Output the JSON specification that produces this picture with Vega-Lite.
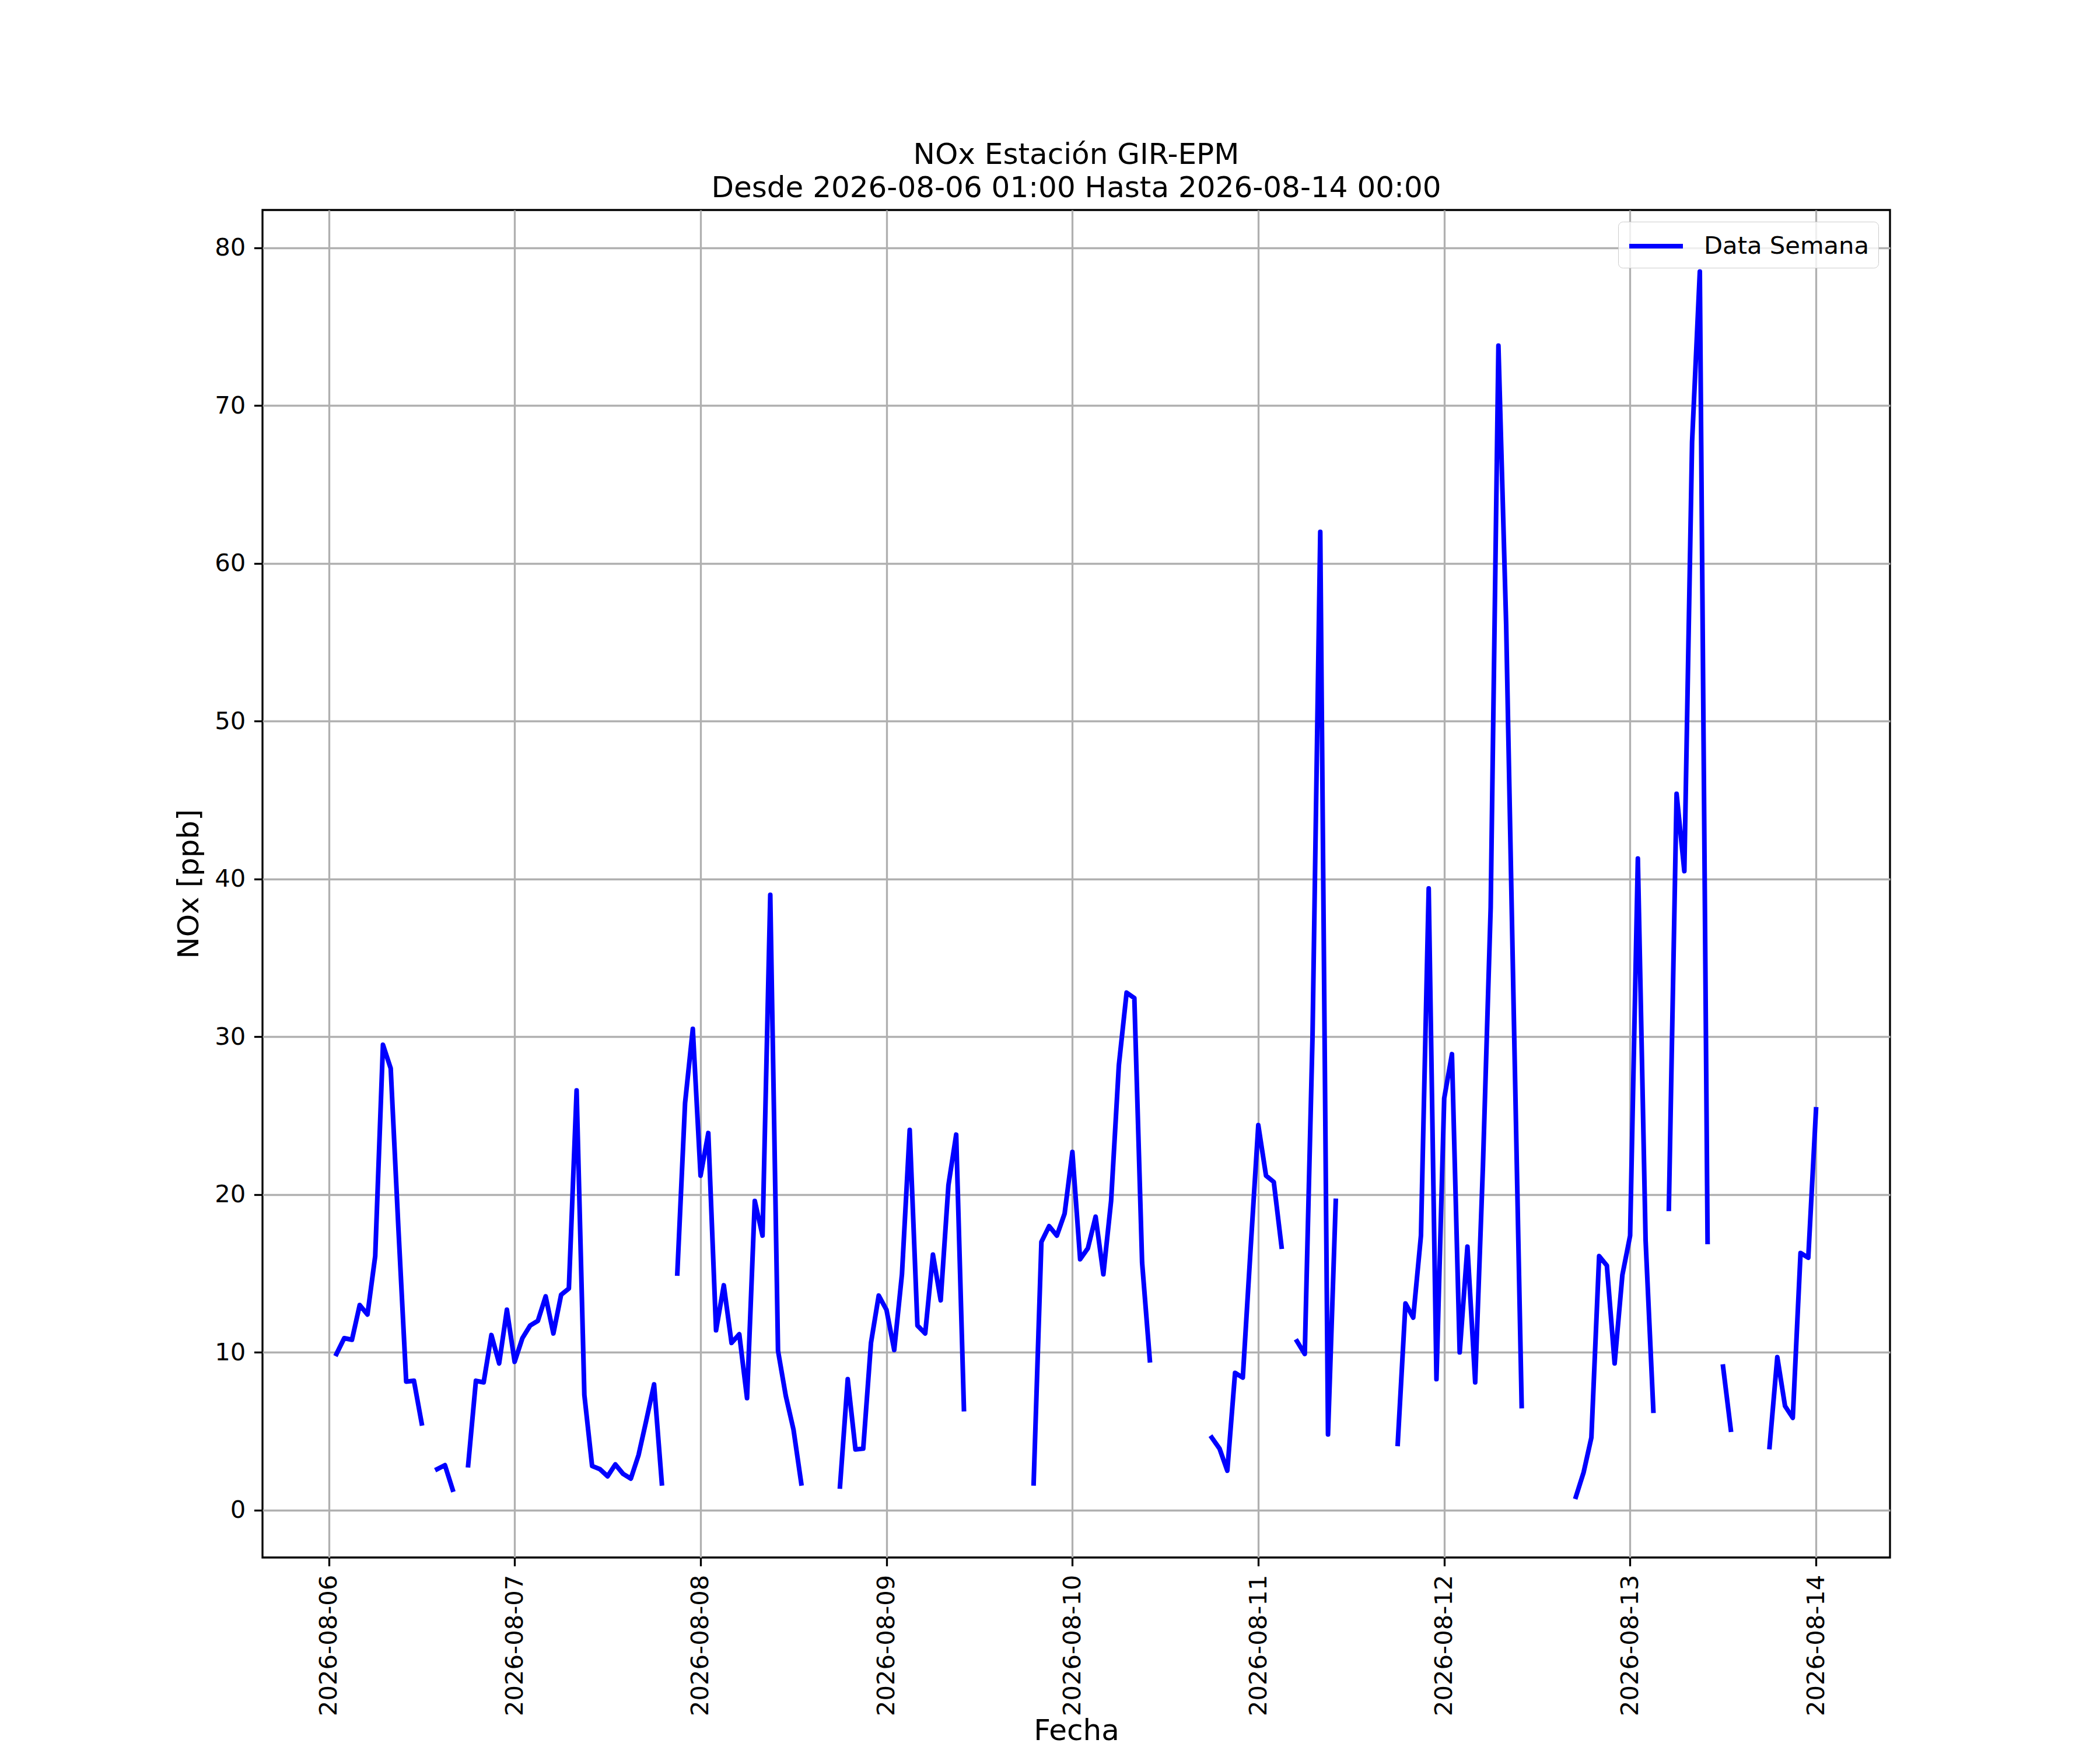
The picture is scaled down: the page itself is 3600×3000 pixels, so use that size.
{
  "$schema": "https://vega.github.io/schema/vega-lite/v6.json",
  "width": 2790,
  "height": 2310,
  "autosize": "none",
  "padding": {"left": 450, "top": 360, "right": 360, "bottom": 330},
  "background": "#ffffff",
  "view": {"stroke": "#000000", "strokeWidth": 3.3, "fill": "#ffffff"},
  "title": {
    "text": ["NOx Estación GIR-EPM", "Desde 2026-08-06 01:00 Hasta 2026-08-14 00:00"],
    "anchor": "middle",
    "frame": "group",
    "font": "DejaVu Sans",
    "fontSize": 50,
    "fontWeight": "normal",
    "lineHeight": 57,
    "offset": 12,
    "color": "#000000"
  },
  "data": {
    "values": [
      {"fecha": "2026-08-06T01:00:00", "nox": 9.9, "serie": "Data Semana"},
      {"fecha": "2026-08-06T02:00:00", "nox": 10.9, "serie": "Data Semana"},
      {"fecha": "2026-08-06T03:00:00", "nox": 10.8, "serie": "Data Semana"},
      {"fecha": "2026-08-06T04:00:00", "nox": 13.0, "serie": "Data Semana"},
      {"fecha": "2026-08-06T05:00:00", "nox": 12.4, "serie": "Data Semana"},
      {"fecha": "2026-08-06T06:00:00", "nox": 16.1, "serie": "Data Semana"},
      {"fecha": "2026-08-06T07:00:00", "nox": 29.5, "serie": "Data Semana"},
      {"fecha": "2026-08-06T08:00:00", "nox": 28.0, "serie": "Data Semana"},
      {"fecha": "2026-08-06T09:00:00", "nox": 17.8, "serie": "Data Semana"},
      {"fecha": "2026-08-06T10:00:00", "nox": 8.15, "serie": "Data Semana"},
      {"fecha": "2026-08-06T11:00:00", "nox": 8.2, "serie": "Data Semana"},
      {"fecha": "2026-08-06T12:00:00", "nox": 5.5, "serie": "Data Semana"},
      {"fecha": "2026-08-06T13:00:00", "nox": null, "serie": "Data Semana"},
      {"fecha": "2026-08-06T14:00:00", "nox": 2.6, "serie": "Data Semana"},
      {"fecha": "2026-08-06T15:00:00", "nox": 2.85, "serie": "Data Semana"},
      {"fecha": "2026-08-06T16:00:00", "nox": 1.3, "serie": "Data Semana"},
      {"fecha": "2026-08-06T17:00:00", "nox": null, "serie": "Data Semana"},
      {"fecha": "2026-08-06T18:00:00", "nox": 2.85, "serie": "Data Semana"},
      {"fecha": "2026-08-06T19:00:00", "nox": 8.2, "serie": "Data Semana"},
      {"fecha": "2026-08-06T20:00:00", "nox": 8.1, "serie": "Data Semana"},
      {"fecha": "2026-08-06T21:00:00", "nox": 11.1, "serie": "Data Semana"},
      {"fecha": "2026-08-06T22:00:00", "nox": 9.3, "serie": "Data Semana"},
      {"fecha": "2026-08-06T23:00:00", "nox": 12.7, "serie": "Data Semana"},
      {"fecha": "2026-08-07T00:00:00", "nox": 9.4, "serie": "Data Semana"},
      {"fecha": "2026-08-07T01:00:00", "nox": 10.9, "serie": "Data Semana"},
      {"fecha": "2026-08-07T02:00:00", "nox": 11.7, "serie": "Data Semana"},
      {"fecha": "2026-08-07T03:00:00", "nox": 12.0, "serie": "Data Semana"},
      {"fecha": "2026-08-07T04:00:00", "nox": 13.55, "serie": "Data Semana"},
      {"fecha": "2026-08-07T05:00:00", "nox": 11.2, "serie": "Data Semana"},
      {"fecha": "2026-08-07T06:00:00", "nox": 13.65, "serie": "Data Semana"},
      {"fecha": "2026-08-07T07:00:00", "nox": 14.05, "serie": "Data Semana"},
      {"fecha": "2026-08-07T08:00:00", "nox": 26.6, "serie": "Data Semana"},
      {"fecha": "2026-08-07T09:00:00", "nox": 7.3, "serie": "Data Semana"},
      {"fecha": "2026-08-07T10:00:00", "nox": 2.8, "serie": "Data Semana"},
      {"fecha": "2026-08-07T11:00:00", "nox": 2.6, "serie": "Data Semana"},
      {"fecha": "2026-08-07T12:00:00", "nox": 2.15, "serie": "Data Semana"},
      {"fecha": "2026-08-07T13:00:00", "nox": 2.9, "serie": "Data Semana"},
      {"fecha": "2026-08-07T14:00:00", "nox": 2.3, "serie": "Data Semana"},
      {"fecha": "2026-08-07T15:00:00", "nox": 2.0, "serie": "Data Semana"},
      {"fecha": "2026-08-07T16:00:00", "nox": 3.5, "serie": "Data Semana"},
      {"fecha": "2026-08-07T17:00:00", "nox": 5.7, "serie": "Data Semana"},
      {"fecha": "2026-08-07T18:00:00", "nox": 7.97, "serie": "Data Semana"},
      {"fecha": "2026-08-07T19:00:00", "nox": 1.7, "serie": "Data Semana"},
      {"fecha": "2026-08-07T20:00:00", "nox": null, "serie": "Data Semana"},
      {"fecha": "2026-08-07T21:00:00", "nox": 15.0, "serie": "Data Semana"},
      {"fecha": "2026-08-07T22:00:00", "nox": 25.8, "serie": "Data Semana"},
      {"fecha": "2026-08-07T23:00:00", "nox": 30.5, "serie": "Data Semana"},
      {"fecha": "2026-08-08T00:00:00", "nox": 21.2, "serie": "Data Semana"},
      {"fecha": "2026-08-08T01:00:00", "nox": 23.9, "serie": "Data Semana"},
      {"fecha": "2026-08-08T02:00:00", "nox": 11.4, "serie": "Data Semana"},
      {"fecha": "2026-08-08T03:00:00", "nox": 14.25, "serie": "Data Semana"},
      {"fecha": "2026-08-08T04:00:00", "nox": 10.6, "serie": "Data Semana"},
      {"fecha": "2026-08-08T05:00:00", "nox": 11.15, "serie": "Data Semana"},
      {"fecha": "2026-08-08T06:00:00", "nox": 7.1, "serie": "Data Semana"},
      {"fecha": "2026-08-08T07:00:00", "nox": 19.6, "serie": "Data Semana"},
      {"fecha": "2026-08-08T08:00:00", "nox": 17.4, "serie": "Data Semana"},
      {"fecha": "2026-08-08T09:00:00", "nox": 39.0, "serie": "Data Semana"},
      {"fecha": "2026-08-08T10:00:00", "nox": 10.1, "serie": "Data Semana"},
      {"fecha": "2026-08-08T11:00:00", "nox": 7.25, "serie": "Data Semana"},
      {"fecha": "2026-08-08T12:00:00", "nox": 5.1, "serie": "Data Semana"},
      {"fecha": "2026-08-08T13:00:00", "nox": 1.7, "serie": "Data Semana"},
      {"fecha": "2026-08-08T14:00:00", "nox": null, "serie": "Data Semana"},
      {"fecha": "2026-08-08T15:00:00", "nox": null, "serie": "Data Semana"},
      {"fecha": "2026-08-08T16:00:00", "nox": null, "serie": "Data Semana"},
      {"fecha": "2026-08-08T17:00:00", "nox": null, "serie": "Data Semana"},
      {"fecha": "2026-08-08T18:00:00", "nox": 1.5, "serie": "Data Semana"},
      {"fecha": "2026-08-08T19:00:00", "nox": 8.3, "serie": "Data Semana"},
      {"fecha": "2026-08-08T20:00:00", "nox": 3.85, "serie": "Data Semana"},
      {"fecha": "2026-08-08T21:00:00", "nox": 3.9, "serie": "Data Semana"},
      {"fecha": "2026-08-08T22:00:00", "nox": 10.6, "serie": "Data Semana"},
      {"fecha": "2026-08-08T23:00:00", "nox": 13.6, "serie": "Data Semana"},
      {"fecha": "2026-08-09T00:00:00", "nox": 12.7, "serie": "Data Semana"},
      {"fecha": "2026-08-09T01:00:00", "nox": 10.15, "serie": "Data Semana"},
      {"fecha": "2026-08-09T02:00:00", "nox": 14.95, "serie": "Data Semana"},
      {"fecha": "2026-08-09T03:00:00", "nox": 24.1, "serie": "Data Semana"},
      {"fecha": "2026-08-09T04:00:00", "nox": 11.7, "serie": "Data Semana"},
      {"fecha": "2026-08-09T05:00:00", "nox": 11.2, "serie": "Data Semana"},
      {"fecha": "2026-08-09T06:00:00", "nox": 16.2, "serie": "Data Semana"},
      {"fecha": "2026-08-09T07:00:00", "nox": 13.3, "serie": "Data Semana"},
      {"fecha": "2026-08-09T08:00:00", "nox": 20.6, "serie": "Data Semana"},
      {"fecha": "2026-08-09T09:00:00", "nox": 23.8, "serie": "Data Semana"},
      {"fecha": "2026-08-09T10:00:00", "nox": 6.4, "serie": "Data Semana"},
      {"fecha": "2026-08-09T11:00:00", "nox": null, "serie": "Data Semana"},
      {"fecha": "2026-08-09T12:00:00", "nox": null, "serie": "Data Semana"},
      {"fecha": "2026-08-09T13:00:00", "nox": null, "serie": "Data Semana"},
      {"fecha": "2026-08-09T14:00:00", "nox": null, "serie": "Data Semana"},
      {"fecha": "2026-08-09T15:00:00", "nox": null, "serie": "Data Semana"},
      {"fecha": "2026-08-09T16:00:00", "nox": null, "serie": "Data Semana"},
      {"fecha": "2026-08-09T17:00:00", "nox": null, "serie": "Data Semana"},
      {"fecha": "2026-08-09T18:00:00", "nox": null, "serie": "Data Semana"},
      {"fecha": "2026-08-09T19:00:00", "nox": 1.7, "serie": "Data Semana"},
      {"fecha": "2026-08-09T20:00:00", "nox": 17.0, "serie": "Data Semana"},
      {"fecha": "2026-08-09T21:00:00", "nox": 18.0, "serie": "Data Semana"},
      {"fecha": "2026-08-09T22:00:00", "nox": 17.4, "serie": "Data Semana"},
      {"fecha": "2026-08-09T23:00:00", "nox": 18.8, "serie": "Data Semana"},
      {"fecha": "2026-08-10T00:00:00", "nox": 22.7, "serie": "Data Semana"},
      {"fecha": "2026-08-10T01:00:00", "nox": 15.9, "serie": "Data Semana"},
      {"fecha": "2026-08-10T02:00:00", "nox": 16.6, "serie": "Data Semana"},
      {"fecha": "2026-08-10T03:00:00", "nox": 18.6, "serie": "Data Semana"},
      {"fecha": "2026-08-10T04:00:00", "nox": 14.95, "serie": "Data Semana"},
      {"fecha": "2026-08-10T05:00:00", "nox": 19.6, "serie": "Data Semana"},
      {"fecha": "2026-08-10T06:00:00", "nox": 28.2, "serie": "Data Semana"},
      {"fecha": "2026-08-10T07:00:00", "nox": 32.8, "serie": "Data Semana"},
      {"fecha": "2026-08-10T08:00:00", "nox": 32.45, "serie": "Data Semana"},
      {"fecha": "2026-08-10T09:00:00", "nox": 15.7, "serie": "Data Semana"},
      {"fecha": "2026-08-10T10:00:00", "nox": 9.5, "serie": "Data Semana"},
      {"fecha": "2026-08-10T11:00:00", "nox": null, "serie": "Data Semana"},
      {"fecha": "2026-08-10T12:00:00", "nox": null, "serie": "Data Semana"},
      {"fecha": "2026-08-10T13:00:00", "nox": null, "serie": "Data Semana"},
      {"fecha": "2026-08-10T14:00:00", "nox": null, "serie": "Data Semana"},
      {"fecha": "2026-08-10T15:00:00", "nox": null, "serie": "Data Semana"},
      {"fecha": "2026-08-10T16:00:00", "nox": null, "serie": "Data Semana"},
      {"fecha": "2026-08-10T17:00:00", "nox": null, "serie": "Data Semana"},
      {"fecha": "2026-08-10T18:00:00", "nox": 4.6, "serie": "Data Semana"},
      {"fecha": "2026-08-10T19:00:00", "nox": 3.9, "serie": "Data Semana"},
      {"fecha": "2026-08-10T20:00:00", "nox": 2.5, "serie": "Data Semana"},
      {"fecha": "2026-08-10T21:00:00", "nox": 8.7, "serie": "Data Semana"},
      {"fecha": "2026-08-10T22:00:00", "nox": 8.4, "serie": "Data Semana"},
      {"fecha": "2026-08-10T23:00:00", "nox": 16.5, "serie": "Data Semana"},
      {"fecha": "2026-08-11T00:00:00", "nox": 24.4, "serie": "Data Semana"},
      {"fecha": "2026-08-11T01:00:00", "nox": 21.2, "serie": "Data Semana"},
      {"fecha": "2026-08-11T02:00:00", "nox": 20.8, "serie": "Data Semana"},
      {"fecha": "2026-08-11T03:00:00", "nox": 16.7, "serie": "Data Semana"},
      {"fecha": "2026-08-11T04:00:00", "nox": null, "serie": "Data Semana"},
      {"fecha": "2026-08-11T05:00:00", "nox": 10.7, "serie": "Data Semana"},
      {"fecha": "2026-08-11T06:00:00", "nox": 9.9, "serie": "Data Semana"},
      {"fecha": "2026-08-11T07:00:00", "nox": 30.0, "serie": "Data Semana"},
      {"fecha": "2026-08-11T08:00:00", "nox": 62.0, "serie": "Data Semana"},
      {"fecha": "2026-08-11T09:00:00", "nox": 4.8, "serie": "Data Semana"},
      {"fecha": "2026-08-11T10:00:00", "nox": 19.6, "serie": "Data Semana"},
      {"fecha": "2026-08-11T11:00:00", "nox": null, "serie": "Data Semana"},
      {"fecha": "2026-08-11T12:00:00", "nox": null, "serie": "Data Semana"},
      {"fecha": "2026-08-11T13:00:00", "nox": null, "serie": "Data Semana"},
      {"fecha": "2026-08-11T14:00:00", "nox": null, "serie": "Data Semana"},
      {"fecha": "2026-08-11T15:00:00", "nox": null, "serie": "Data Semana"},
      {"fecha": "2026-08-11T16:00:00", "nox": null, "serie": "Data Semana"},
      {"fecha": "2026-08-11T17:00:00", "nox": null, "serie": "Data Semana"},
      {"fecha": "2026-08-11T18:00:00", "nox": 4.2, "serie": "Data Semana"},
      {"fecha": "2026-08-11T19:00:00", "nox": 13.1, "serie": "Data Semana"},
      {"fecha": "2026-08-11T20:00:00", "nox": 12.2, "serie": "Data Semana"},
      {"fecha": "2026-08-11T21:00:00", "nox": 17.4, "serie": "Data Semana"},
      {"fecha": "2026-08-11T22:00:00", "nox": 39.4, "serie": "Data Semana"},
      {"fecha": "2026-08-11T23:00:00", "nox": 8.3, "serie": "Data Semana"},
      {"fecha": "2026-08-12T00:00:00", "nox": 26.1, "serie": "Data Semana"},
      {"fecha": "2026-08-12T01:00:00", "nox": 28.9, "serie": "Data Semana"},
      {"fecha": "2026-08-12T02:00:00", "nox": 10.0, "serie": "Data Semana"},
      {"fecha": "2026-08-12T03:00:00", "nox": 16.7, "serie": "Data Semana"},
      {"fecha": "2026-08-12T04:00:00", "nox": 8.1, "serie": "Data Semana"},
      {"fecha": "2026-08-12T05:00:00", "nox": 21.8, "serie": "Data Semana"},
      {"fecha": "2026-08-12T06:00:00", "nox": 38.2, "serie": "Data Semana"},
      {"fecha": "2026-08-12T07:00:00", "nox": 73.8, "serie": "Data Semana"},
      {"fecha": "2026-08-12T08:00:00", "nox": 56.1, "serie": "Data Semana"},
      {"fecha": "2026-08-12T09:00:00", "nox": 31.0, "serie": "Data Semana"},
      {"fecha": "2026-08-12T10:00:00", "nox": 6.6, "serie": "Data Semana"},
      {"fecha": "2026-08-12T11:00:00", "nox": null, "serie": "Data Semana"},
      {"fecha": "2026-08-12T12:00:00", "nox": null, "serie": "Data Semana"},
      {"fecha": "2026-08-12T13:00:00", "nox": null, "serie": "Data Semana"},
      {"fecha": "2026-08-12T14:00:00", "nox": null, "serie": "Data Semana"},
      {"fecha": "2026-08-12T15:00:00", "nox": null, "serie": "Data Semana"},
      {"fecha": "2026-08-12T16:00:00", "nox": null, "serie": "Data Semana"},
      {"fecha": "2026-08-12T17:00:00", "nox": 0.85, "serie": "Data Semana"},
      {"fecha": "2026-08-12T18:00:00", "nox": 2.4, "serie": "Data Semana"},
      {"fecha": "2026-08-12T19:00:00", "nox": 4.6, "serie": "Data Semana"},
      {"fecha": "2026-08-12T20:00:00", "nox": 16.1, "serie": "Data Semana"},
      {"fecha": "2026-08-12T21:00:00", "nox": 15.5, "serie": "Data Semana"},
      {"fecha": "2026-08-12T22:00:00", "nox": 9.3, "serie": "Data Semana"},
      {"fecha": "2026-08-12T23:00:00", "nox": 14.9, "serie": "Data Semana"},
      {"fecha": "2026-08-13T00:00:00", "nox": 17.4, "serie": "Data Semana"},
      {"fecha": "2026-08-13T01:00:00", "nox": 41.3, "serie": "Data Semana"},
      {"fecha": "2026-08-13T02:00:00", "nox": 17.1, "serie": "Data Semana"},
      {"fecha": "2026-08-13T03:00:00", "nox": 6.3, "serie": "Data Semana"},
      {"fecha": "2026-08-13T04:00:00", "nox": null, "serie": "Data Semana"},
      {"fecha": "2026-08-13T05:00:00", "nox": 19.1, "serie": "Data Semana"},
      {"fecha": "2026-08-13T06:00:00", "nox": 45.4, "serie": "Data Semana"},
      {"fecha": "2026-08-13T07:00:00", "nox": 40.5, "serie": "Data Semana"},
      {"fecha": "2026-08-13T08:00:00", "nox": 67.7, "serie": "Data Semana"},
      {"fecha": "2026-08-13T09:00:00", "nox": 78.5, "serie": "Data Semana"},
      {"fecha": "2026-08-13T10:00:00", "nox": 17.0, "serie": "Data Semana"},
      {"fecha": "2026-08-13T11:00:00", "nox": null, "serie": "Data Semana"},
      {"fecha": "2026-08-13T12:00:00", "nox": 9.1, "serie": "Data Semana"},
      {"fecha": "2026-08-13T13:00:00", "nox": 5.1, "serie": "Data Semana"},
      {"fecha": "2026-08-13T14:00:00", "nox": null, "serie": "Data Semana"},
      {"fecha": "2026-08-13T15:00:00", "nox": null, "serie": "Data Semana"},
      {"fecha": "2026-08-13T16:00:00", "nox": null, "serie": "Data Semana"},
      {"fecha": "2026-08-13T17:00:00", "nox": null, "serie": "Data Semana"},
      {"fecha": "2026-08-13T18:00:00", "nox": 4.0, "serie": "Data Semana"},
      {"fecha": "2026-08-13T19:00:00", "nox": 9.7, "serie": "Data Semana"},
      {"fecha": "2026-08-13T20:00:00", "nox": 6.6, "serie": "Data Semana"},
      {"fecha": "2026-08-13T21:00:00", "nox": 5.85, "serie": "Data Semana"},
      {"fecha": "2026-08-13T22:00:00", "nox": 16.3, "serie": "Data Semana"},
      {"fecha": "2026-08-13T23:00:00", "nox": 16.0, "serie": "Data Semana"},
      {"fecha": "2026-08-14T00:00:00", "nox": 25.4, "serie": "Data Semana"}
    ]
  },
  "mark": {
    "type": "line",
    "strokeWidth": 8,
    "strokeCap": "square",
    "strokeJoin": "round",
    "invalid": "break-paths-filter-domains"
  },
  "encoding": {
    "x": {
      "field": "fecha",
      "type": "temporal",
      "scale": {
        "domain": [
          {"year": 2026, "month": 8, "date": 5, "hours": 15, "minutes": 27},
          {"year": 2026, "month": 8, "date": 14, "hours": 9, "minutes": 33}
        ],
        "nice": false
      },
      "axis": {
        "title": "Fecha",
        "format": "%Y-%m-%d",
        "labelAngle": -90,
        "values": [
          {"year": 2026, "month": 8, "date": 6},
          {"year": 2026, "month": 8, "date": 7},
          {"year": 2026, "month": 8, "date": 8},
          {"year": 2026, "month": 8, "date": 9},
          {"year": 2026, "month": 8, "date": 10},
          {"year": 2026, "month": 8, "date": 11},
          {"year": 2026, "month": 8, "date": 12},
          {"year": 2026, "month": 8, "date": 13},
          {"year": 2026, "month": 8, "date": 14}
        ],
        "titlePadding": 72
      }
    },
    "y": {
      "field": "nox",
      "type": "quantitative",
      "scale": {"domain": [-3.0, 82.4], "nice": false, "zero": false},
      "axis": {
        "title": "NOx [ppb]",
        "values": [0, 10, 20, 30, 40, 50, 60, 70, 80],
        "titlePadding": 18
      }
    },
    "color": {
      "field": "serie",
      "type": "nominal",
      "scale": {"range": ["#0000ff"]},
      "legend": {
        "title": null,
        "orient": "top-right",
        "offset": 20,
        "symbolType": "M-1,0H3",
        "symbolSize": 2116,
        "symbolStrokeWidth": 8,
        "labelFont": "DejaVu Sans",
        "labelFontSize": 41.7,
        "labelColor": "#000000",
        "labelOffset": 78,
        "labelLimit": 1000,
        "fillColor": "rgba(255,255,255,0.8)",
        "strokeColor": "#cccccc",
        "cornerRadius": 8,
        "padding": 15
      }
    }
  },
  "config": {
    "font": "DejaVu Sans",
    "axis": {
      "domain": false,
      "grid": true,
      "gridColor": "#b0b0b0",
      "gridWidth": 3.3,
      "gridOpacity": 1,
      "ticks": true,
      "tickColor": "#000000",
      "tickWidth": 3.3,
      "tickSize": 14.6,
      "labelFont": "DejaVu Sans",
      "labelFontSize": 41.7,
      "labelColor": "#000000",
      "labelPadding": 14.6,
      "labelOverlap": false,
      "labelLimit": 1000,
      "titleFont": "DejaVu Sans",
      "titleFontSize": 50,
      "titleFontWeight": "normal",
      "titleColor": "#000000"
    }
  }
}
